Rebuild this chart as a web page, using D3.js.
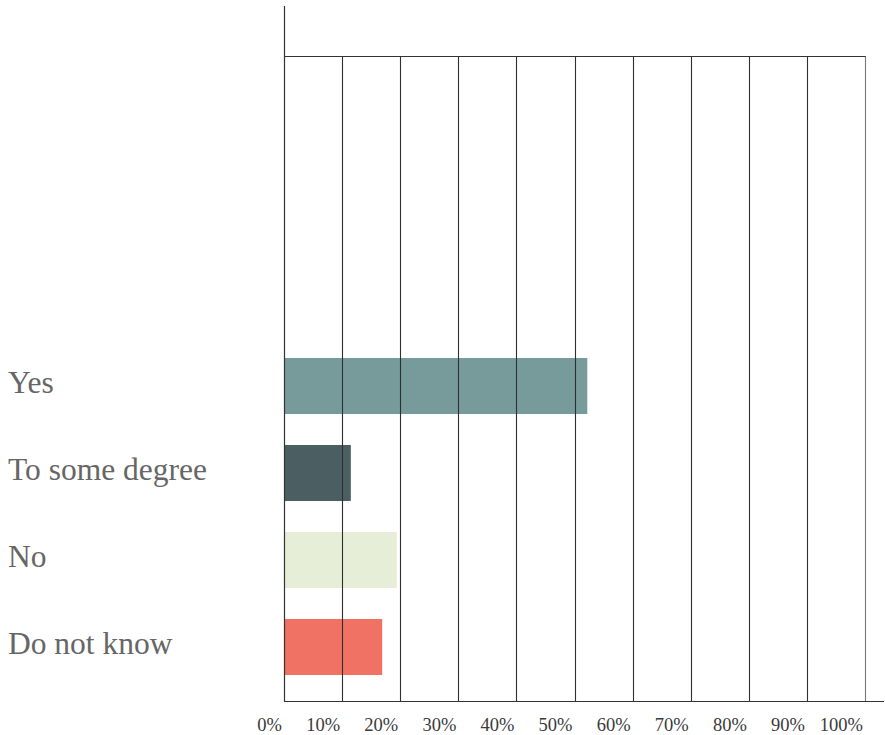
<!DOCTYPE html>
<html><head><meta charset="utf-8">
<script src="https://cdn.jsdelivr.net/npm/d3@7"></script>
<style>body{margin:0;background:#fff}</style>
</head><body>
<svg id="chart" width="885" height="735"></svg>
<script>
const categories = ["Yes", "To some degree", "No", "Do not know"];
const values = [52.2, 11.5, 19.4, 16.9];
const colors = ["#779b9b", "#4b5f62", "#e6eed8", "#f07265"];
const ticks = [0, 10, 20, 30, 40, 50, 60, 70, 80, 90, 100];
const tickLabels = ticks.map(t => t + "%");

(function () {
const svg = d3.select("#chart");
const x = d3.scaleLinear().domain([0, 100]).range([284, 865]);
const y = d3.scaleBand().domain(categories).range([342.5, 690.5]).paddingInner(0.356).paddingOuter(0.178);
const plotTop = 56, plotBottom = 701;

// bars
svg.append("g").selectAll("rect").data(categories).join("rect")
  .attr("x", x(0)).attr("y", d => y(d))
  .attr("width", (d, i) => x(values[i]) - x(0))
  .attr("height", y.bandwidth())
  .attr("fill", (d, i) => colors[i]);

// gridlines on top
const g = svg.append("g");
g.selectAll("line.grid").data(ticks.slice(1)).join("line")
  .attr("class", "grid")
  .attr("x1", d => Math.round(x(d)) + 0.5).attr("x2", d => Math.round(x(d)) + 0.5)
  .attr("y1", plotTop).attr("y2", plotBottom)
  .attr("stroke", (d) => d === 100 ? "#777" : "#2f2f2f").attr("stroke-width", 1.1);
// left axis
g.append("line").attr("x1", x(0) + 0.5).attr("x2", x(0) + 0.5).attr("y1", 6).attr("y2", plotBottom + 0.5)
  .attr("stroke", "#333").attr("stroke-width", 1.2);
// top line
g.append("line").attr("x1", x(0)).attr("x2", x(100) + 0.5).attr("y1", plotTop + 0.5).attr("y2", plotTop + 0.5)
  .attr("stroke", "#333");
// bottom line
g.append("line").attr("x1", x(0)).attr("x2", 884).attr("y1", plotBottom + 0.5).attr("y2", plotBottom + 0.5)
  .attr("stroke", "#333").attr("stroke-width", 1.2);

// x tick labels
svg.append("g").selectAll("text").data(ticks).join("text")
  .attr("x", d => x(d) - 2).attr("y", 731)
  .attr("text-anchor", "end")
  .attr("font-family", "'Liberation Serif', 'DejaVu Serif', serif")
  .attr("font-size", 18.5).attr("fill", "#3a3a3a")
  .text((d, i) => tickLabels[i]);

// category labels
svg.append("g").selectAll("text").data(categories).join("text")
  .attr("x", 8).attr("y", d => y(d) + y.bandwidth() / 2 + 6.5)
  .attr("font-family", "'Liberation Serif', 'DejaVu Serif', serif")
  .attr("font-size", 31.5).attr("fill", "#666")
  .text(d => d);
})();
</script>
</body></html>
